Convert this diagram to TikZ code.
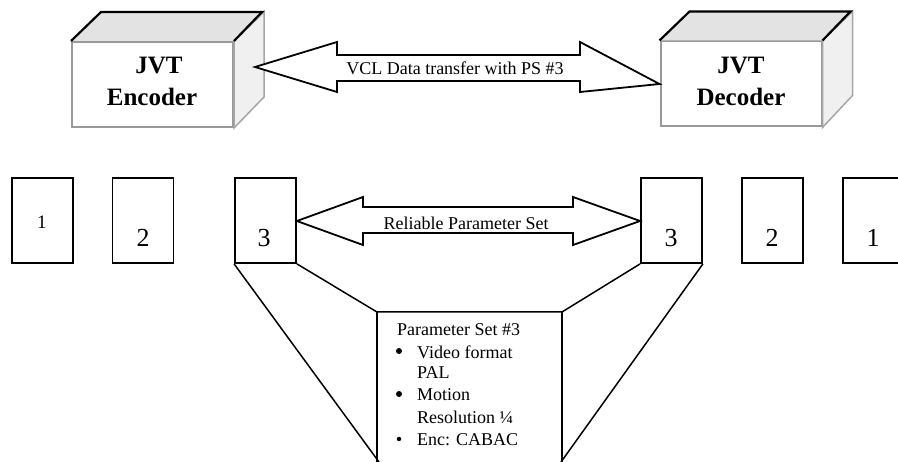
\documentclass[tikz,border=0pt]{standalone}
\usepackage{fontspec}
\setmainfont{Liberation Serif}
\begin{document}
\begin{tikzpicture}[x=1pt,y=-1pt,
  front/.style={draw=gray!80,line width=2pt,fill=white,minimum width=161pt,minimum height=85pt,inner sep=0pt},
  topface/.style={fill=gray!22},
  topedge/.style={draw=black,line width=2.2pt,line join=miter},
  sideface/.style={fill=gray!12,draw=gray!70,line width=1.5pt},
  cubetext/.style={font=\fontsize{25}{27}\selectfont\bfseries,inner sep=0pt},
  blockarrow/.style={draw=black,line width=1.8pt,fill=white,line join=miter},
  arrtext/.style={font=\fontsize{18}{20}\selectfont,inner sep=0pt},
  numbox/.style={draw=black,line width=1.8pt,minimum width=61pt,minimum height=85pt,inner sep=0pt},
  numtext/.style={font=\fontsize{26}{28}\selectfont,inner sep=0pt},
  fan/.style={draw=black,line width=1.5pt},
  ptext/.style={font=\fontsize{18}{20}\selectfont,inner sep=0pt,anchor=west},
  dot/.style={circle,fill=black,inner sep=0pt,minimum size=6pt}]
\useasboundingbox (0,0) rectangle (898,462);
\clip (0,0) rectangle (898,462);
% encoder cube
\node[front] (enc) at (152.5,84.5) {};
\draw[sideface] (enc.north east) -- ++(30,-29) -- ++(0,85) -- (enc.south east) -- cycle;
\fill[topface] (enc.north west) -- ++(30,-29) -- ++(161,0) -- (enc.north east) -- cycle;
\draw[topedge] (enc.north west) -- ++(30,-29) -- ++(161,0) -- (enc.north east);
\node[cubetext] (encA) at (159,66) {JVT};
\node[cubetext] (encB) at (152,97) {Encoder};
% decoder cube
\node[front] (dec) at (741,84) {};
\draw[sideface] (dec.north east) -- ++(30,-29) -- ++(0,84) -- (dec.south east) -- cycle;
\fill[topface] (dec.north west) -- ++(30,-29) -- ++(161,0) -- (dec.north east) -- cycle;
\draw[topedge] (dec.north west) -- ++(30,-29) -- ++(161,0) -- (dec.north east);
\node[cubetext] (decA) at (741,66) {JVT};
\node[cubetext] (decB) at (741,97) {Decoder};
% top block arrow
\coordinate (tA) at (255,67);
\coordinate (tB) at (dec.west);
\draw[blockarrow] (tA) -- (337,42) -- (337,55) -- (580,55) -- (580,42) -- (tB)
  -- (580,92) -- (580,81) -- (337,81) -- (337,92) -- cycle;
\node[arrtext] (vcl) at (455,68) {VCL Data transfer with PS \#3};
% number boxes
\node[numbox] (l1) at (42.5,220.5) {};
\node[numbox] (l2) at (143,220.5) {};
\node[numbox] (l3) at (265.5,220.5) {};
\node[numbox] (r3) at (671.5,220.5) {};
\node[numbox] (r2) at (772.5,220.5) {};
\node[numbox] (r1) at (873.5,220.5) {};
\node[font=\fontsize{19}{21}\selectfont,inner sep=0pt] (t1) at (42,222) {1};
\node[numtext] (t2) at (143,238) {2};
\node[numtext] (t3) at (264,238) {3};
\node[numtext] (u3) at (671,238) {3};
\node[numtext] (u2) at (772,238) {2};
\node[numtext] (u1) at (873,238) {1};
% middle block arrow
\draw[blockarrow] (l3.east |- 0,221) -- (363,197) -- (363,207) -- (573,207) -- (573,197) -- (r3.west |- 0,221)
  -- (573,245) -- (573,233) -- (363,233) -- (363,245) -- cycle;
\node[arrtext] (rps) at (466,223) {Reliable Parameter Set};
% fan lines and parameter box
\coordinate (pl) at (377,312);
\coordinate (pr) at (562,312);
\draw[fan] (l3.south west) -- (379,462);
\draw[fan] (l3.south east) -- (pl) -- (pr) -- (r3.south west);
\draw[fan] (pl) -- (377,462);
\draw[fan] (pr) -- (562,462);
\draw[fan] (r3.south east) -- (561,462);
\node[ptext] (p0) at (397,330) {Parameter Set \#3};
\node[dot] (b1) at (399,351) {};
\node[ptext] (p1) at (417,352) {Video format};
\node[ptext] (p2) at (417,373) {PAL};
\node[dot] (b2) at (399,394) {};
\node[ptext] (p3) at (417,395) {Motion};
\node[ptext] (p4) at (417,417) {Resolution ¼};
\node[dot,minimum size=4.5pt] (b3) at (399,439) {};
\node[ptext] (p5) at (417,440) {Enc: CABAC};
\end{tikzpicture}
\end{document}
